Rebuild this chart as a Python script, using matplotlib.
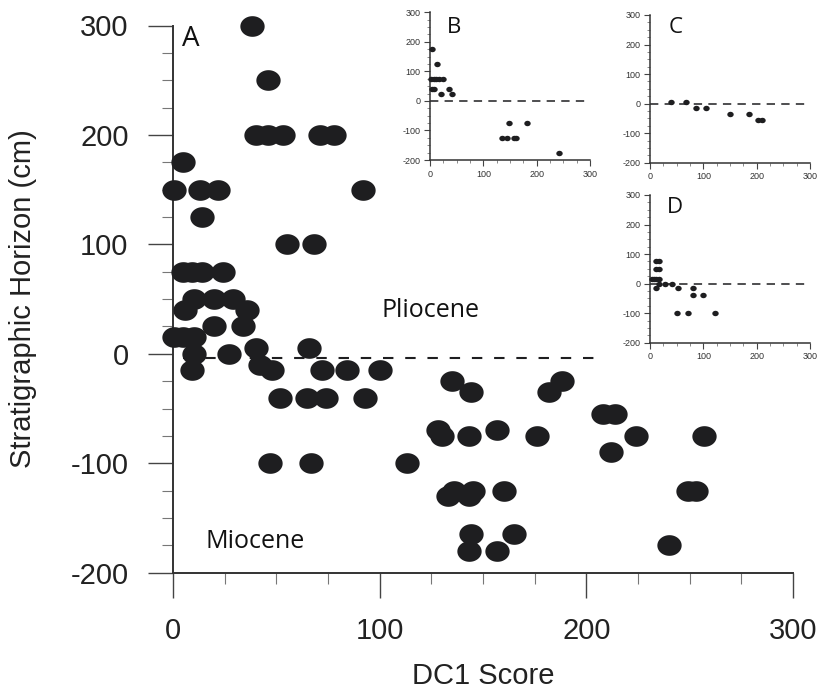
import numpy as np
import matplotlib
matplotlib.use("Agg")
import matplotlib.pyplot as plt
from matplotlib.path import Path
from matplotlib.ticker import MultipleLocator

plt.rcParams['font.family'] = ['Liberation Sans', 'DejaVu Sans']
plt.rcParams['lines.scale_dashes'] = False
plt.rcParams['axes.unicode_minus'] = False

# ---- Panel A: all samples ----
a_dc1 = [38, 46,
         40, 46, 53, 71, 78,
         5,
         0.5, 13, 22, 92,
         14,
         55, 68,
         5, 9, 14, 24,
         10, 20, 29,
         6, 36,
         20, 34,
         0.5, 5, 10,
         10, 27, 40, 66,
         42, 48, 9, 72, 84, 100,
         52, 65, 74, 93,
         47, 67, 113,
         135, 144, 188, 182,
         208, 214,
         128, 130, 143, 157, 176, 224, 257,
         212,
         133, 136, 143, 145, 160,
         249, 253,
         144, 143, 157, 165, 240]
a_horizon = [300, 250,
             200, 200, 200, 200, 200,
             175,
             150, 150, 150, 150,
             125,
             100, 100,
             75, 75, 75, 75,
             50, 50, 50,
             40, 40,
             25, 25,
             15, 15, 15,
             0, 0, 5, 5,
             -10, -15, -15, -15, -15, -15,
             -40, -40, -40, -40,
             -100, -100, -100,
             -25, -35, -25, -35,
             -55, -55,
             -70, -75, -75, -70, -75, -75, -75,
             -90,
             -130, -125, -130, -125, -125,
             -125, -125,
             -165, -180, -180, -165, -175]

# Pliocene / Miocene boundary in panel A
boundary_dc1 = [5, 208]
boundary_horizon = [-4, -4]

# ---- Panel B ----
b_dc1 = [3, 14, 2, 7, 12, 17, 25, 3, 7, 21, 36, 42,
         135, 145, 157, 162, 149, 182, 242]
b_horizon = [175, 125, 75, 75, 75, 75, 75, 40, 40, 25, 40, 25,
             -125, -125, -125, -125, -75, -75, -175]

# ---- Panel C ----
c_dc1 = [40, 68, 86, 105, 150, 186, 202, 210]
c_horizon = [5, 5, -15, -15, -35, -35, -55, -55]

# ---- Panel D ----
d_dc1 = [11, 17, 11, 16, 3, 8, 11, 17, 17, 29, 42, 11, 53, 80, 80, 100, 50, 72, 122]
d_horizon = [75, 75, 50, 50, 15, 15, 15, 15, 0, 0, 0, -15, -15, -15, -40, -40, -100, -100, -100]

ink = '#1e1e20'
tick_color = '#222222'

# wide elliptical dot used for every sample
t = np.linspace(0, 2 * np.pi, 80)
blob = Path(np.column_stack([np.cos(t), 0.85 * np.sin(t)]), closed=True)

W, H = 817, 692
fig = plt.figure(figsize=(W / 100, H / 100), dpi=100)

# main axes
L, R, T, B = 173, 793, 25.5, 572.7
ax = fig.add_axes([L / W, 1 - B / H, (R - L) / W, (B - T) / H])
ax.set_xlim(0, 300)
ax.set_ylim(-200, 300)
ax.plot(a_dc1, a_horizon, linestyle='none', marker=blob, ms=17.5,
        mfc=ink, mec='none', clip_on=False, zorder=3)
ax.plot(boundary_dc1, boundary_horizon, color=ink, lw=1.5,
        linestyle=(0, (7.5, 8.5)), zorder=2)

for s in ('top', 'right'):
    ax.spines[s].set_visible(False)
for s in ('left', 'bottom'):
    ax.spines[s].set_linewidth(1.4)
    ax.spines[s].set_color('#333333')

ax.xaxis.set_major_locator(MultipleLocator(100))
ax.xaxis.set_minor_locator(MultipleLocator(25))
ax.yaxis.set_major_locator(MultipleLocator(100))
ax.yaxis.set_minor_locator(MultipleLocator(25))
ax.tick_params(which='major', length=18, width=1.0, color='#444444',
               labelsize=21, labelcolor=tick_color, pad=14)
ax.tick_params(which='minor', length=8, width=0.8, color='#777777')

ax.set_xlabel('DC1 Score', fontsize=21, color=tick_color, va='center')
ax.xaxis.set_label_coords(0.5, -0.189)
ax.set_ylabel('Stratigraphic Horizon (cm)', fontsize=21, color=tick_color, va='center')
ax.yaxis.set_label_coords(-0.242, 0.5)

label_font = ['Open Sans', 'DejaVu Sans']
ax.text(4.5, 281, 'A', fontsize=20, family=label_font, color='#111111', va='baseline')
ax.text(100.7, 33.8, 'Pliocene', fontsize=18, family=label_font, color='#111111', va='baseline')
ax.text(15.8, -177, 'Miocene', fontsize=18, family=label_font, color='#111111', va='baseline')


def small_panel(left_px, top_px, xs, ys, letter, letter_xy):
    w_px, h_px = 160, 147.7
    iax = fig.add_axes([left_px / W, 1 - (top_px + h_px) / H, w_px / W, h_px / H])
    iax.set_xlim(0, 300)
    iax.set_ylim(-200, 300)
    iax.plot(xs, ys, linestyle='none', marker=blob, ms=4.6,
             mfc=ink, mec='none', clip_on=False, zorder=3)
    iax.axhline(0, color=ink, lw=1.1, linestyle=(0, (6, 4.5)), zorder=2)
    for s in ('top', 'right'):
        iax.spines[s].set_visible(False)
    for s in ('left', 'bottom'):
        iax.spines[s].set_linewidth(1.1)
        iax.spines[s].set_color('#333333')
    iax.xaxis.set_major_locator(MultipleLocator(100))
    iax.xaxis.set_minor_locator(MultipleLocator(25))
    iax.yaxis.set_major_locator(MultipleLocator(100))
    iax.yaxis.set_minor_locator(MultipleLocator(25))
    iax.tick_params(which='major', length=4.5, width=0.8, color='#444444',
                    labelsize=6.5, labelcolor='#333333', pad=2.5)
    iax.tick_params(which='minor', length=2.5, width=0.6, color='#777777')
    iax.patch.set_alpha(0)
    iax.text(letter_xy[0], letter_xy[1], letter, fontsize=16, family=label_font,
             color='#111111', va='baseline')
    return iax


small_panel(430, 12.3, b_dc1, b_horizon, 'B', (32, 231))
small_panel(650, 15, c_dc1, c_horizon, 'C', (34, 239))
small_panel(650, 195, d_dc1, d_horizon, 'D', (32, 239))

fig.savefig('out.png', dpi=100)
